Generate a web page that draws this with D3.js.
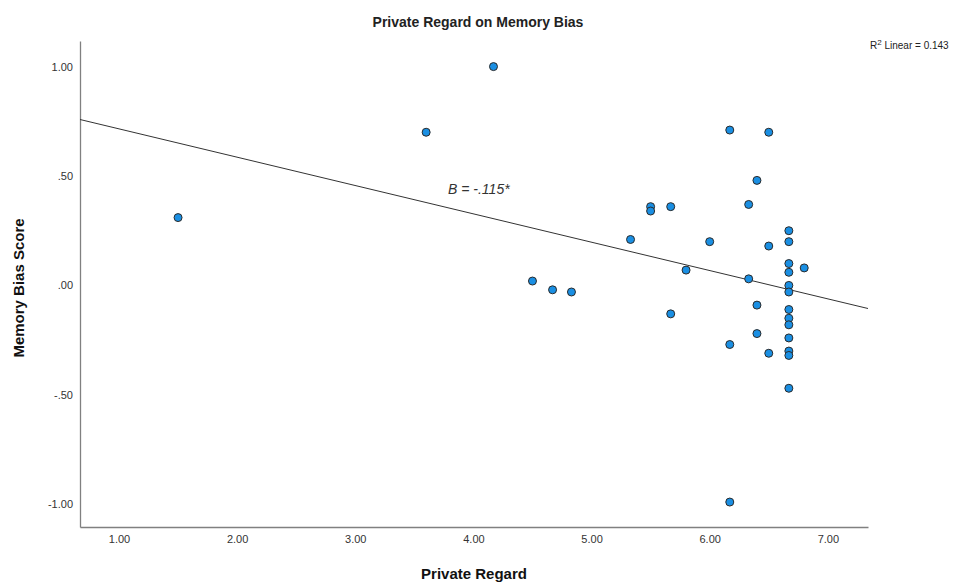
<!DOCTYPE html>
<html>
<head>
<meta charset="utf-8">
<script src="https://cdn.jsdelivr.net/npm/d3@7"></script>
<style>
  body { margin: 0; background: #fff; }
  svg { font-family: "Liberation Sans", Arial, sans-serif; }
</style>
</head>
<body>
<script>
// Datos
var privateRegard = [1.50, 3.60, 4.17, 4.50, 4.67, 4.83, 5.33, 5.50, 5.50, 5.67,
    5.67, 5.80, 6.00, 6.17, 6.17, 6.17, 6.33, 6.33, 6.40, 6.40,
    6.40, 6.50, 6.50, 6.50, 6.67, 6.67, 6.67, 6.67, 6.67, 6.67,
    6.67, 6.67, 6.67, 6.67, 6.67, 6.67, 6.67, 6.80];
var memoryBias = [0.31, 0.70, 1.00, 0.02, -0.02, -0.03, 0.21, 0.36, 0.34, 0.36,
    -0.13, 0.07, 0.20, 0.71, -0.27, -0.99, 0.37, 0.03, 0.48, -0.09,
    -0.22, 0.70, 0.18, -0.31, 0.25, 0.20, 0.10, 0.06, 0.00, -0.03,
    -0.11, -0.15, -0.18, -0.24, -0.30, -0.32, -0.47, 0.08];
var xTicks = [1, 2, 3, 4, 5, 6, 7];
var yTicks = [-1, -0.5, 0, 0.5, 1];
// Recta de regresión (intercepto, pendiente)
var fitIntercept = 0.845;
var fitSlope = -0.1295;

var width = 969, height = 583;

var svg = d3.select("body").append("svg")
    .attr("width", width)
    .attr("height", height);

var x = d3.scaleLinear().domain([0.67, 7.34]).range([80, 868]);
var y = d3.scaleLinear().domain([-1.104, 1.117]).range([527, 41]);

// Formato estilo SPSS: sin cero inicial y con guion normal
var fmt = d => d.toFixed(2).replace(/^(-?)0\./, "$1.");

// Eje X
var gx = svg.append("g")
    .attr("transform", "translate(0," + y.range()[0] + ")")
    .call(d3.axisBottom(x).tickValues(xTicks).tickSize(0).tickPadding(8).tickFormat(d => d.toFixed(2)));
gx.select(".domain").attr("stroke", "#808080").attr("stroke-width", 1.3);
gx.selectAll("text").style("font-size", "11px").attr("fill", "#333");

// Eje Y
var gy = svg.append("g")
    .attr("transform", "translate(" + x.range()[0] + ",0)")
    .call(d3.axisLeft(y).tickValues(yTicks).tickSize(0).tickPadding(7).tickFormat(fmt));
gy.select(".domain").attr("stroke", "#808080").attr("stroke-width", 1.3);
gy.selectAll("text").style("font-size", "11px").attr("fill", "#333");

// Línea de ajuste
var xd = x.domain();
svg.append("line")
    .attr("x1", x(xd[0]))
    .attr("y1", y(fitIntercept + fitSlope * xd[0]))
    .attr("x2", x(xd[1]))
    .attr("y2", y(fitIntercept + fitSlope * xd[1]))
    .attr("stroke", "#333")
    .attr("stroke-width", 1);

// Puntos
svg.selectAll("circle.pt")
    .data(privateRegard.map((d, i) => ({x: d, y: memoryBias[i]})))
    .enter()
    .append("circle")
    .attr("class", "pt")
    .attr("cx", d => x(d.x))
    .attr("cy", d => y(d.y))
    .attr("r", 4)
    .attr("fill", "#1a8fe3")
    .attr("stroke", "#2a2a2a")
    .attr("stroke-width", 1);

// Título
svg.append("text")
    .attr("x", 478)
    .attr("y", 27)
    .attr("text-anchor", "middle")
    .style("font-size", "14px")
    .style("font-weight", "bold")
    .attr("fill", "#222")
    .text("Private Regard on Memory Bias");

// Etiquetas de ejes
svg.append("text")
    .attr("x", 474)
    .attr("y", 579)
    .attr("text-anchor", "middle")
    .style("font-size", "15px")
    .style("font-weight", "bold")
    .attr("fill", "#111")
    .text("Private Regard");

svg.append("text")
    .attr("transform", "translate(24,288) rotate(-90)")
    .attr("text-anchor", "middle")
    .style("font-size", "15px")
    .style("font-weight", "bold")
    .attr("fill", "#111")
    .text("Memory Bias Score");

// R cuadrado
var r2 = svg.append("text")
    .attr("x", 870)
    .attr("y", 49)
    .style("font-size", "10px")
    .attr("fill", "#222");
r2.append("tspan").text("R");
r2.append("tspan").attr("dy", -4).style("font-size", "8px").text("2");
r2.append("tspan").attr("dy", 4).text(" Linear = 0.143");

// Coeficiente
svg.append("text")
    .attr("x", 448)
    .attr("y", 194)
    .style("font-size", "14px")
    .style("font-style", "italic")
    .attr("fill", "#333")
    .text("B = -.115*");
</script>
</body>
</html>
